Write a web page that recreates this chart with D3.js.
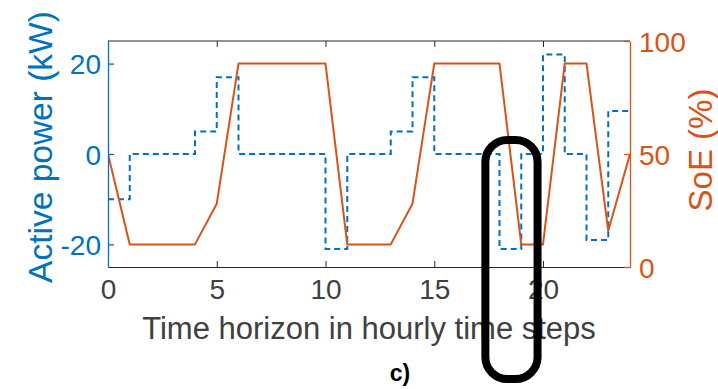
<!DOCTYPE html>
<html>
<head>
<meta charset="utf-8">
<script src="https://cdn.jsdelivr.net/npm/d3@7"></script>
<style>
  html, body { margin: 0; padding: 0; background: #fff; }
  svg { display: block; font-family: "Liberation Sans", Arial, Helvetica, sans-serif; }
</style>
</head>
<body>
<svg id="chart" width="718" height="389"></svg>
<script>
// hourly time steps
const hours = [0, 1, 2, 3, 4, 5, 6, 7, 8, 9, 10, 11, 12, 13, 14, 15, 16, 17, 18, 19, 20, 21, 22, 23, 24];
// active power per hour interval (kW), stairs
const power = [-10, 0, 0, 0, 5, 17, 0, 0, 0, 0, -21, 0, 0, 5, 17, 0, 0, 0, -21, 0, 22, 0, -19, 9.5];
// state of energy at each hour (%)
const soe = [50, 10, 10, 10, 10, 28, 90, 90, 90, 90, 90, 10, 10, 10, 28, 90, 90, 90, 90, 10, 10, 90, 90, 16, 50];

const xTicks = [0, 5, 10, 15, 20];
const powerTicks = [-20, 0, 20];
const soeTicks = [0, 50, 100];
const highlightHours = [17.35, 19.75];

const blue = '#0072BD';
const orange = '#D95319';
const grey = '#262626';
const textGrey = '#404040';

const margin = { top: 41, right: 88, bottom: 122, left: 108 };
const svg = d3.select('#chart');
const W = +svg.attr('width'), H = +svg.attr('height');
const width = W - margin.left - margin.right;
const height = H - margin.top - margin.bottom;

const x = d3.scaleLinear().domain([0, 24]).range([0, width]);
const yP = d3.scaleLinear().domain([-25, 25]).range([height, 0]);
const yS = d3.scaleLinear().domain([0, 100]).range([height, 0]);

const g = svg.append('g').attr('transform', `translate(${margin.left},${margin.top})`);

// Clip for plot lines
svg.append('defs').append('clipPath').attr('id', 'plot-clip')
  .append('rect').attr('x', 0).attr('y', 0).attr('width', width).attr('height', height);

// Stairs for power
const stairData = hours.map((h, i) => ({ h, v: power[Math.min(i, power.length - 1)] }));
const stairLine = d3.line()
  .x(d => x(d.h))
  .y(d => yP(d.v))
  .curve(d3.curveStepAfter);

const soeLine = d3.line()
  .x((d, i) => x(hours[i]))
  .y(d => yS(d));

const plot = g.append('g').attr('clip-path', 'url(#plot-clip)');

plot.append('path')
  .datum(stairData)
  .attr('d', stairLine)
  .attr('fill', 'none')
  .attr('stroke', blue)
  .attr('stroke-width', 2)
  .attr('stroke-dasharray', '6,4');

plot.append('path')
  .datum(soe)
  .attr('d', soeLine)
  .attr('fill', 'none')
  .attr('stroke', orange)
  .attr('stroke-width', 2)
  .attr('stroke-linejoin', 'round');

// Box: top line
g.append('line').attr('x1', 0).attr('x2', width).attr('y1', 0).attr('y2', 0)
  .attr('stroke', grey).attr('stroke-width', 1.2);

const plainFmt = d => String(d);

// Bottom axis (ticks inward)
const xAxis = g.append('g')
  .attr('transform', `translate(0,${height})`)
  .call(d3.axisBottom(x).tickValues(xTicks).tickFormat(plainFmt).tickSizeInner(-6).tickSizeOuter(0).tickPadding(12));
xAxis.select('.domain').attr('stroke', grey).attr('stroke-width', 1.2);
xAxis.selectAll('.tick line').attr('stroke', grey);
xAxis.selectAll('.tick text')
  .attr('fill', textGrey)
  .attr('font-size', 28)
  .attr('dy', '0.72em');

// Top ticks
g.append('g')
  .call(d3.axisTop(x).tickValues(xTicks).tickSizeInner(-6).tickSizeOuter(0).tickFormat(''))
  .call(a => a.select('.domain').remove())
  .selectAll('.tick line').attr('stroke', grey);

// Left axis
const leftAxis = g.append('g')
  .call(d3.axisLeft(yP).tickValues(powerTicks).tickFormat(plainFmt).tickSizeInner(-6).tickSizeOuter(0).tickPadding(7));
leftAxis.select('.domain').attr('stroke', blue).attr('stroke-width', 1.3);
leftAxis.selectAll('.tick line').attr('stroke', blue).attr('stroke-width', 1.3);
leftAxis.selectAll('.tick text')
  .attr('fill', blue)
  .attr('font-size', 28)
  .attr('dy', '0.36em');

// Right axis
const rightAxis = g.append('g')
  .attr('transform', `translate(${width},0)`)
  .call(d3.axisRight(yS).tickValues(soeTicks).tickFormat(plainFmt).tickSizeInner(-6).tickSizeOuter(0).tickPadding(9));
rightAxis.select('.domain').attr('stroke', orange).attr('stroke-width', 1.3);
rightAxis.selectAll('.tick line').attr('stroke', orange).attr('stroke-width', 1.3);
rightAxis.selectAll('.tick text')
  .attr('fill', orange)
  .attr('font-size', 28)
  .attr('dy', '0.36em');

// Axis labels
svg.append('text')
  .attr('transform', `translate(52,147) rotate(-90)`)
  .attr('text-anchor', 'middle')
  .attr('fill', blue)
  .attr('font-size', 33.5)
  .text('Active power (kW)');

svg.append('text')
  .attr('transform', `translate(712,150) rotate(-90)`)
  .attr('text-anchor', 'middle')
  .attr('fill', orange)
  .attr('font-size', 33)
  .text('SoE (%)');

svg.append('text')
  .attr('x', margin.left + width / 2)
  .attr('y', 339)
  .attr('text-anchor', 'middle')
  .attr('fill', textGrey)
  .attr('font-size', 31)
  .text('Time horizon in hourly time steps');

svg.append('text')
  .attr('x', 400)
  .attr('y', 381)
  .attr('text-anchor', 'middle')
  .attr('fill', '#000')
  .attr('font-weight', 'bold')
  .attr('font-size', 23)
  .text('c)');

// Highlight annotation (rounded frame)
const hx0 = margin.left + x(highlightHours[0]);
const hx1 = margin.left + x(highlightHours[1]);
svg.append('rect')
  .attr('x', hx0)
  .attr('y', 140)
  .attr('width', hx1 - hx0)
  .attr('height', 239)
  .attr('rx', 22)
  .attr('ry', 22)
  .attr('fill', 'none')
  .attr('stroke', '#000')
  .attr('stroke-width', 8);
</script>
</body>
</html>
